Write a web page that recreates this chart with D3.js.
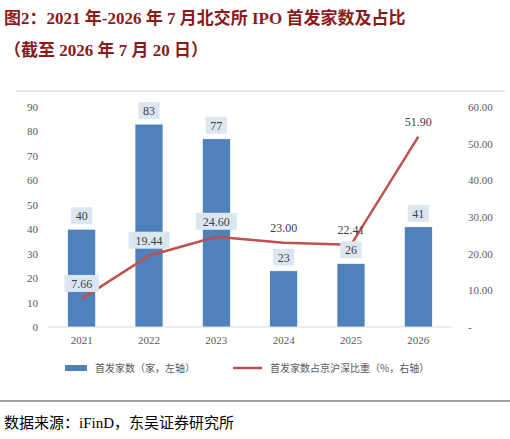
<!DOCTYPE html>
<html><head><meta charset="utf-8">
<script src="https://cdn.jsdelivr.net/npm/d3@7"></script>
<style>body{margin:0;background:#fff}</style>
</head><body>
<script>
var years = ["2021","2022","2023","2024","2025","2026"]
var counts = [40,83,77,23,26,41]
var shares = [7.66,19.44,24.60,23.00,22.41,51.90]
var leftTicks = d3.range(0,91,10)
var rightTicks = d3.range(0,61,10)

var svg = d3.select("body").append("svg").attr("width",510).attr("height",439)
  .style("font-family","'Liberation Serif','Noto Sans CJK SC',serif")

svg.append("text").attr("x",4).attr("y",24).attr("fill","#8b1a1a")
  .attr("font-size",17).attr("font-weight","bold")
  .style("font-family","'Liberation Serif','Noto Sans CJK SC',serif")
  .text("图2：2021 年-2026 年 7 月北交所 IPO 首发家数及占比")
svg.append("text").attr("x",4).attr("y",56).attr("fill","#8b1a1a")
  .attr("font-size",17).attr("font-weight","bold")
  .style("font-family","'Liberation Serif','Noto Sans CJK SC',serif")
  .text("（截至 2026 年 7 月 20 日）")

svg.append("line").attr("x1",16).attr("x2",505).attr("y1",91).attr("y2",91).attr("stroke","#c8c8c8")

var xc = d3.scalePoint().domain(years).range([48,452]).padding(0.5)
var bw = 28
var yL = d3.scaleLinear().domain([0,90]).range([327,107])
var yR = d3.scaleLinear().domain([0,60]).range([327,107])

svg.append("line").attr("x1",48).attr("x2",452).attr("y1",327).attr("y2",327).attr("stroke","#d9d9d9")

svg.append("g").attr("font-size",11).selectAll("text").data(leftTicks).join("text")
  .attr("x",38).attr("y",d=>yL(d)+4).attr("text-anchor","end").attr("fill","#595959").text(d=>d)
svg.append("g").attr("font-size",11).selectAll("text").data(rightTicks).join("text")
  .attr("x",468).attr("y",d=>yR(d)+4).attr("fill","#595959").text(d=>d===0?"  -":d.toFixed(2))
svg.append("g").attr("font-size",11).selectAll("text").data(years).join("text")
  .attr("x",d=>xc(d)).attr("y",344).attr("text-anchor","middle").attr("fill","#595959").text(d=>d)

svg.selectAll("rect.bar").data(counts).join("rect").attr("class","bar")
  .attr("x",(d,i)=>xc(years[i])-bw/2).attr("width",bw)
  .attr("y",d=>yL(d)).attr("height",d=>327-yL(d)).attr("fill","#4f81bd")
  .attr("stroke","#fff").attr("stroke-width",0.7)

svg.append("path").datum(shares)
  .attr("d",d3.line().x((d,i)=>xc(years[i])).y(d=>yR(d)))
  .attr("fill","none").attr("stroke","#c0504d").attr("stroke-width",2.5)

function label(tx,ty,t,box){
  var w = t.length*6.6+8
  if(box) svg.append("rect").attr("x",tx-w/2).attr("y",ty-9).attr("width",w).attr("height",17).attr("fill","#dce6f1")
  svg.append("text").attr("x",tx).attr("y",ty+4).attr("text-anchor","middle").attr("font-size",12).attr("fill","#404040").text(t)
}
counts.forEach((d,i)=>label(xc(years[i]),yL(d)-13,String(d),true))
shares.forEach((d,i)=>label(xc(years[i]),yR(d)-15,d.toFixed(2),i<3))

var lg = svg.append("g").attr("font-size",10).style("font-family","'Noto Sans CJK SC',sans-serif")
lg.append("rect").attr("x",65).attr("y",365).attr("width",22).attr("height",6).attr("fill","#4f81bd")
lg.append("text").attr("x",95).attr("y",372).attr("fill","#595959").text("首发家数（家，左轴）")
lg.append("line").attr("x1",233).attr("x2",262).attr("y1",368).attr("y2",368).attr("stroke","#c0504d").attr("stroke-width",2.5)
lg.append("text").attr("x",270).attr("y",372).attr("fill","#595959").text("首发家数占京沪深比重（%，右轴）")

svg.append("line").attr("x1",0).attr("x2",510).attr("y1",401).attr("y2",401).attr("stroke","#404040")
svg.append("text").attr("x",4).attr("y",428).attr("font-size",15).attr("fill","#000")
  .style("font-family","'Liberation Serif','Noto Sans CJK SC',serif").text("数据来源：iFinD，东吴证券研究所")
</script>
</body></html>
